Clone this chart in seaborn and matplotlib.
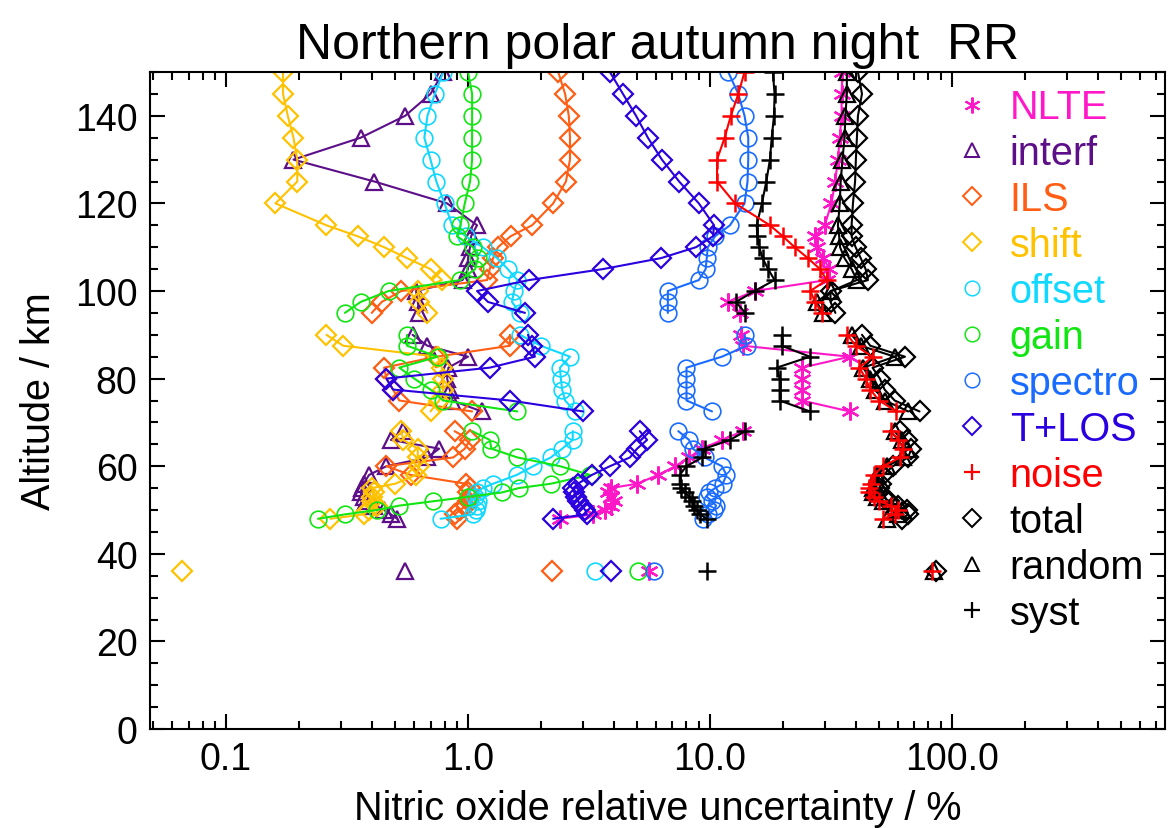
import numpy as np
import pandas as pd
import matplotlib
matplotlib.use("Agg")
import matplotlib.pyplot as plt
import matplotlib.ticker as mticker
from matplotlib.lines import Line2D
import seaborn as sns

# Altitude grids (km) of the three retrieval windows and the column row
ALT_UP = [95, 97.5, 100, 102.5, 105, 107.5, 110, 112.5, 115, 120, 125, 130, 135, 140, 145, 150]
ALT_MID = [72.5, 75, 77.5, 80, 82.5, 85, 87.5, 90]
ALT_LOW = [48, 49, 50, 51, 52, 53, 54, 55, 56, 58, 60, 62, 64, 66, 68]
ALT_COL = 36

# Relative uncertainties (%) per error source
nlte_up = [13.3, 11.9, 15.3, 30.5, 31.2, 29.4, 27.6, 27.2, 29.8, 31.8, 32.9, 33.8, 34.4, 35.0, 35.0, 35.3]
nlte_mid = [37.8, 24, 24, 24, 24, 37.8, 13.7, 13.5]
nlte_low = [2.4, 3.3, 3.7, 3.9, 4.0, 3.9, 3.8, 3.9, 5.0, 6.1, 7.2, 8.2, 9.3, 11.2, 13.7]
nlte_col = 5.6

interf_up = [0.63, 0.62, 0.61, 0.95, 1.0, 1.0, 1.02, 1.03, 1.09, 0.82, 0.41, 0.19, 0.36, 0.55, 0.70, 0.79]
interf_mid = [1.14, 0.86, 0.84, 0.82, 0.83, 1.0, 0.68, 0.59]
interf_low = [0.51, 0.48, 0.45, 0.41, 0.38, 0.37, 0.36, 0.365, 0.37, 0.39, 0.46, 0.68, 0.76, 0.48, 0.54]
interf_col = 0.55

ils_up = [0.40, 0.44, 0.53, 1.2, 1.23, 1.27, 1.33, 1.5, 1.84, 2.25, 2.54, 2.64, 2.64, 2.61, 2.52, 2.36]
ils_mid = [1.04, 0.52, 0.49, 0.46, 0.45, 0.74, 1.49, 1.49]
ils_low = [0.90, 0.88, 0.93, 0.98, 1.0, 1.02, 1.0, 1.02, 0.98, 0.58, 0.46, 0.87, 0.97, 1.02, 0.88]
ils_col = 2.22

shift_up = [0.68, 0.63, 0.62, 0.78, 0.70, 0.56, 0.45, 0.35, 0.26, 0.16, 0.197, 0.197, 0.19, 0.18, 0.172, 0.172]
shift_mid = [0.70, 0.76, 0.79, 0.79, 0.78, 0.75, 0.305, 0.26]
shift_low = [0.27, 0.37, 0.39, 0.42, 0.40, 0.40, 0.41, 0.40, 0.50, 0.61, 0.63, 0.62, 0.62, 0.54, 0.53]
shift_col = 0.066

offset_up = [1.64, 1.52, 1.55, 1.6, 1.46, 1.32, 1.15, 0.98, 0.86, 0.80, 0.74, 0.70, 0.66, 0.68, 0.73, 0.79]
offset_mid = [2.77, 2.52, 2.45, 2.42, 2.4, 2.64, 2.0, 1.64]
offset_low = [0.77, 1.05, 1.08, 1.09, 1.1, 1.07, 1.09, 1.15, 1.27, 1.59, 1.86, 2.2, 2.45, 2.71, 2.71]
offset_col = 3.35

gain_up = [0.31, 0.36, 0.47, 0.93, 1.07, 1.1, 1.05, 0.90, 0.93, 0.97, 1.02, 1.04, 1.04, 1.04, 1.04, 1.0]
gain_mid = [1.6, 0.79, 0.70, 0.6, 0.52, 0.75, 0.56, 0.56]
gain_low = [0.24, 0.31, 0.42, 0.52, 0.72, 1.0, 1.38, 1.62, 2.2, 3.2, 2.4, 1.6, 1.25, 1.23, 1.04]
gain_col = 5.04

spectro_up = [6.7, 6.7, 6.7, 9.0, 9.6, 9.7, 9.8, 10.5, 12.1, 13.9, 14.3, 14.4, 14.4, 13.9, 13.1, 11.9]
spectro_mid = [10.2, 8.0, 8.0, 8.0, 8.0, 11.2, 14.2, 13.9]
spectro_low = [9.4, 9.8, 10.4, 10.6, 10.2, 9.7, 9.9, 10.5, 11.3, 11.7, 11.2, 9.5, 8.5, 8.2, 7.4]
spectro_col = 5.87

tlos_up = [1.72, 1.21, 1.09, 1.79, 3.61, 6.27, 8.76, 10.3, 10.4, 9.0, 7.46, 6.33, 5.54, 4.95, 4.37, 3.86]
tlos_mid = [2.99, 1.49, 0.49, 0.46, 1.23, 1.89, 1.84, 1.77]
tlos_low = [2.25, 3.1, 3.05, 2.95, 2.85, 2.8, 2.75, 2.72, 2.85, 3.25, 3.86, 4.67, 5.0, 5.5, 5.13]
tlos_col = 3.9

noise_up = [29, 27.2, 26, 30.4, 28.5, 25.4, 22.4, 20, 17.7, 12.7, 10.7, 10.7, 11.5, 12.2, 13.1, 13.9]
noise_mid = [59, 50, 46, 44, 41.5, 47, 40, 37]
noise_low = [52, 58, 60, 56, 50, 47.5, 45.5, 45.5, 46.5, 47.5, 52, 61, 63, 60, 56]
noise_col = 83

total_up = [33, 31.5, 31.5, 45, 44, 42, 40, 38.5, 38.5, 39, 39.8, 40.1, 40.5, 40.9, 42.5, 40.9]
total_mid = [73.5, 58, 52.7, 50.4, 47, 64, 46, 42.5]
total_low = [62, 66, 65, 60, 55, 52, 50, 50, 51, 52, 57, 66, 68, 65, 61]
total_col = 86

random_up = [29.4, 27.6, 31.8, 40.5, 38.5, 36, 34.5, 34.2, 33.8, 34.4, 34.7, 35.3, 36, 36.3, 36.8, 36.8]
random_mid = [66, 53, 48, 46, 43, 58, 42, 38.5]
random_low = [54, 60, 62, 58, 52, 49, 47, 47, 48, 49, 54, 63, 65, 62, 58]
random_col = 84

syst_up = [14, 12.8, 15.3, 18.5, 17.4, 16.5, 16, 15.7, 15.6, 16.4, 17.1, 17.7, 18, 18.4, 18.5, 18.2]
syst_mid = [25.9, 19.4, 19.4, 19.4, 18.9, 25.9, 19.8, 19.8]
syst_low = [9.7, 9.1, 8.8, 8.6, 8.4, 8.2, 7.9, 7.6, 7.5, 7.5, 8.0, 9.3, 9.5, 12.1, 14]
syst_col = 9.7

LABELS = ["NLTE", "interf", "ILS", "shift", "offset", "gain", "spectro",
          "T+LOS", "noise", "total", "random", "syst"]

PROFILES = {
    "NLTE": (nlte_up, nlte_mid, nlte_low, nlte_col),
    "interf": (interf_up, interf_mid, interf_low, interf_col),
    "ILS": (ils_up, ils_mid, ils_low, ils_col),
    "shift": (shift_up, shift_mid, shift_low, shift_col),
    "offset": (offset_up, offset_mid, offset_low, offset_col),
    "gain": (gain_up, gain_mid, gain_low, gain_col),
    "spectro": (spectro_up, spectro_mid, spectro_low, spectro_col),
    "T+LOS": (tlos_up, tlos_mid, tlos_low, tlos_col),
    "noise": (noise_up, noise_mid, noise_low, noise_col),
    "total": (total_up, total_mid, total_low, total_col),
    "random": (random_up, random_mid, random_low, random_col),
    "syst": (syst_up, syst_mid, syst_low, syst_col),
}

ASTERISK = (6, 2, 0)
STYLE = {
    "NLTE":    dict(color="#ff18c8", marker=ASTERISK, ms=13, mew=1.6),
    "interf":  dict(color="#5c0f88", marker="^", ms=12, mew=1.6),
    "ILS":     dict(color="#ff5e14", marker="D", ms=10, mew=1.6),
    "shift":   dict(color="#ffc200", marker="D", ms=10, mew=1.6),
    "offset":  dict(color="#10d8ff", marker="o", ms=12, mew=1.2),
    "gain":    dict(color="#12e612", marker="o", ms=12, mew=1.2),
    "spectro": dict(color="#1a6cff", marker="o", ms=12, mew=1.2),
    "T+LOS":   dict(color="#2a00e0", marker="D", ms=10, mew=1.6),
    "noise":   dict(color="#ff0000", marker="+", ms=13, mew=1.8),
    "total":   dict(color="#000000", marker="D", ms=10, mew=1.6),
    "random":  dict(color="#000000", marker="^", ms=12, mew=1.6),
    "syst":    dict(color="#000000", marker="+", ms=13, mew=1.8),
}

rows = []
for name in LABELS:
    up, mid, low, col = PROFILES[name]
    for seg, alts, vals in (("upper", ALT_UP, up), ("middle", ALT_MID, mid), ("lower", ALT_LOW, low)):
        for a, v in zip(alts, vals):
            rows.append((name, seg, a, v))
    rows.append((name, "column", ALT_COL, col))
df = pd.DataFrame(rows, columns=["quantity", "segment", "altitude", "value"])

sns.set_theme(style="ticks")
plt.rcParams["font.family"] = ["Liberation Sans", "DejaVu Sans"]
plt.rcParams["axes.linewidth"] = 1.5
plt.rcParams["text.color"] = "black"
plt.rcParams["axes.labelcolor"] = "black"
plt.rcParams["xtick.color"] = "black"
plt.rcParams["ytick.color"] = "black"

fig = plt.figure(figsize=(11.68, 8.29), dpi=100)
ax = fig.add_axes([150 / 1168, 1 - 730 / 829, 1015 / 1168, 657 / 829])
ax.set_xscale("log")

draw_order = ["NLTE", "interf", "ILS", "shift", "offset", "gain", "spectro",
              "T+LOS", "total", "random", "syst", "noise"]
for name in draw_order:
    st = STYLE[name]
    sub = df[df["quantity"] == name]
    sns.lineplot(data=sub, x="value", y="altitude", units="segment",
                 estimator=None, sort=False, ax=ax, legend=False,
                 color=st["color"], lw=1.5, marker=st["marker"],
                 markersize=st["ms"], markerfacecolor="none",
                 markeredgecolor=st["color"], markeredgewidth=st["mew"])

ax.set_xlim(0.0485, 760)
ax.set_ylim(0, 150)

ax.set_xticks([0.1, 1, 10, 100])
ax.xaxis.set_major_formatter(mticker.FuncFormatter(lambda v, p: f"{v:.1f}"))
ax.xaxis.set_minor_locator(mticker.LogLocator(base=10, subs=np.arange(2, 10)))
ax.xaxis.set_minor_formatter(mticker.NullFormatter())
ax.set_yticks(np.arange(0, 141, 20))
ax.yaxis.set_minor_locator(mticker.MultipleLocator(5))

ax.tick_params(which="both", direction="in", top=True, right=True,
               labelsize=27, width=1.5, colors="black")
ax.tick_params(which="major", length=11, pad=9)
ax.tick_params(which="minor", length=5.5)

for sp in ax.spines.values():
    sp.set_linewidth(1.5)
    sp.set_color("black")

ax.set_xlabel("Nitric oxide relative uncertainty / %", fontsize=28.5, labelpad=8)
ax.set_ylabel("Altitude / km", fontsize=28.5, labelpad=12)
ax.set_title("Northern polar autumn night  RR", fontsize=36, pad=10)

handles = []
for name in LABELS:
    st = STYLE[name]
    handles.append(Line2D([], [], ls="none", marker=st["marker"],
                          markersize=st["ms"] * 0.88, markerfacecolor="none",
                          markeredgecolor=st["color"],
                          markeredgewidth=st["mew"] * 0.9))
ax.legend(handles, LABELS, loc="upper left", bbox_to_anchor=(0.794, 0.975),
          frameon=False, fontsize=28.5, handlelength=0.8, handletextpad=0.56,
          labelspacing=0.2, borderpad=0, borderaxespad=0,
          labelcolor=[STYLE[n]["color"] for n in LABELS])

fig.savefig("out.png", dpi=100)
